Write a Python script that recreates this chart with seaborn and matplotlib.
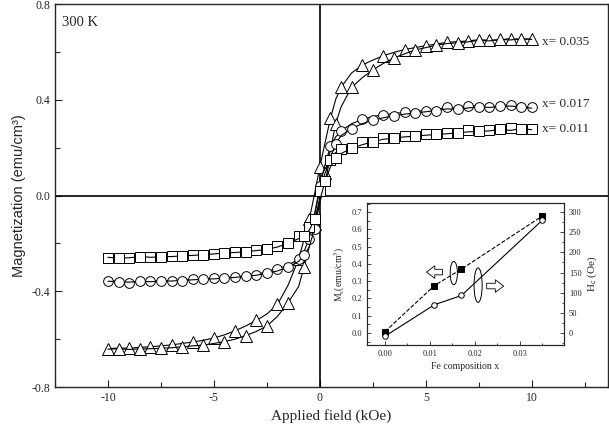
import matplotlib
matplotlib.use("Agg")
import matplotlib.pyplot as plt
from matplotlib.patches import Ellipse
from matplotlib.ticker import MultipleLocator, FormatStrFormatter
import seaborn as sns

# applied field grid (kOe), swept from +10 down to -10
field = [10, 9.5, 9, 8.5, 8, 7.5, 7, 6.5, 6, 5.5, 5, 4.5, 4, 3.5, 3, 2.5, 2, 1.5, 1,
         0.75, 0.5, 0.25, 0, -0.25, -0.5, -0.75, -1, -1.5, -2, -2.5, -3, -3.5, -4,
         -4.5, -5, -5.5, -6, -6.5, -7, -7.5, -8, -8.5, -9, -9.5, -10]

# x = 0.035 (triangles)
m035_down = [0.655, 0.652, 0.656, 0.650, 0.649, 0.651, 0.646, 0.643, 0.640, 0.633, 0.626,
             0.618, 0.610, 0.598, 0.584, 0.566, 0.545, 0.512, 0.452, 0.402, 0.322, 0.222,
             0.120, 0.005, -0.100, -0.185, -0.265, -0.375, -0.455, -0.495, -0.522, -0.545,
             -0.565, -0.582, -0.595, -0.605, -0.612, -0.618, -0.624, -0.628, -0.632,
             -0.634, -0.638, -0.637, -0.640]
m035_up = [0.652, 0.655, 0.650, 0.652, 0.646, 0.648, 0.642, 0.638, 0.635, 0.628, 0.618,
           0.608, 0.592, 0.575, 0.552, 0.525, 0.492, 0.452, 0.370, 0.300, 0.190, 0.095,
           -0.010, -0.120, -0.215, -0.300, -0.380, -0.448, -0.505, -0.545, -0.568, -0.585,
           -0.600, -0.610, -0.618, -0.625, -0.628, -0.632, -0.636, -0.638, -0.640,
           -0.641, -0.643, -0.640, -0.642]

# x = 0.017 (circles)
m017_down = [0.368, 0.372, 0.380, 0.375, 0.370, 0.378, 0.372, 0.365, 0.368, 0.360, 0.355,
             0.352, 0.348, 0.342, 0.338, 0.330, 0.318, 0.300, 0.270, 0.245, 0.205, 0.130,
             0.040, -0.080, -0.180, -0.235, -0.265, -0.292, -0.305, -0.318, -0.330, -0.336,
             -0.340, -0.343, -0.345, -0.348, -0.350, -0.352, -0.356, -0.355, -0.358,
             -0.360, -0.365, -0.358, -0.355]
m017_up = [0.365, 0.370, 0.374, 0.372, 0.368, 0.370, 0.366, 0.360, 0.362, 0.355, 0.350,
           0.345, 0.340, 0.333, 0.325, 0.315, 0.300, 0.280, 0.250, 0.215, 0.160, 0.060,
           -0.030, -0.140, -0.215, -0.250, -0.275, -0.300, -0.315, -0.325, -0.333, -0.338,
           -0.342, -0.345, -0.348, -0.350, -0.352, -0.355, -0.357, -0.358, -0.360,
           -0.358, -0.362, -0.360, -0.358]

# x = 0.011 (squares)
m011_down = [0.278, 0.272, 0.282, 0.268, 0.275, 0.270, 0.272, 0.265, 0.262, 0.258, 0.255,
             0.252, 0.250, 0.245, 0.240, 0.232, 0.222, 0.212, 0.195, 0.180, 0.150, 0.095,
             0.020, -0.080, -0.130, -0.155, -0.170, -0.195, -0.212, -0.222, -0.228, -0.232,
             -0.236, -0.240, -0.244, -0.246, -0.250, -0.252, -0.254, -0.255, -0.256,
             -0.258, -0.260, -0.256, -0.262]
m011_up = [0.275, 0.280, 0.272, 0.276, 0.270, 0.268, 0.266, 0.262, 0.258, 0.255, 0.252,
           0.248, 0.245, 0.240, 0.235, 0.225, 0.212, 0.198, 0.175, 0.155, 0.120, 0.060,
           -0.020, -0.100, -0.145, -0.168, -0.180, -0.200, -0.215, -0.225, -0.230, -0.235,
           -0.238, -0.240, -0.244, -0.247, -0.250, -0.252, -0.255, -0.256, -0.258,
           -0.255, -0.260, -0.262, -0.258]

# inset: saturation magnetization and coercivity vs Fe content
fe_x = [0.0, 0.011, 0.017, 0.035]
ms_vals = [0.008, 0.275, 0.370, 0.678]
hc_vals = [-8, 70, 93, 280]

loops = [("x= 0.035", m035_down, m035_up, "^", 8, 0.640),
         ("x= 0.017", m017_down, m017_up, "o", 7, 0.381),
         ("x= 0.011", m011_down, m011_up, "s", 6.5, 0.278)]

sns.set_style("ticks")
plt.rcParams["font.family"] = ["Liberation Serif", "DejaVu Serif"]
plt.rcParams["mathtext.fontset"] = "stix"
plt.rcParams["axes.unicode_minus"] = False

fig = plt.figure(figsize=(6.09, 4.26), dpi=100)
ax = fig.add_axes([0.0903, 0.0915, 0.908, 0.899])

ax.axhline(0, color="black", lw=1.2, zorder=1)
ax.axvline(0, color="black", lw=1.2, zorder=1)

for label, down, up, mk, ms, ylab in loops:
    for branch, start in [(down, 0), (up, 1)]:
        sns.lineplot(x=field, y=branch, sort=False, estimator=None, ax=ax,
                     color="black", lw=0.8, marker=mk, markersize=ms,
                     markerfacecolor="white", markeredgecolor="black",
                     markeredgewidth=0.7, markevery=(start, 2), zorder=3)
    ax.text(10.5, ylab, label, fontsize=9.5, va="center", ha="left")

ax.text(0.013, 0.953, "300 K", transform=ax.transAxes, fontsize=10.5, va="center")

ax.set_xlim(-12.5, 13.6)
ax.set_ylim(-0.8, 0.8)
ax.xaxis.set_major_locator(MultipleLocator(5))
ax.xaxis.set_minor_locator(MultipleLocator(2.5))
ax.yaxis.set_major_locator(MultipleLocator(0.4))
ax.yaxis.set_minor_locator(MultipleLocator(0.2))
ax.yaxis.set_major_formatter(FormatStrFormatter("%.1f"))
ax.tick_params(which="both", direction="in", labelsize=8.5, width=0.8)
ax.tick_params(which="major", length=5)
ax.tick_params(which="minor", length=3.5)
for sp in ax.spines.values():
    sp.set_linewidth(1.0)
ax.set_xlabel("Applied field (kOe)", fontsize=11, labelpad=4)
ax.set_ylabel("Magnetization (emu/cm³)", fontsize=10.5,
              family=["Liberation Sans", "DejaVu Sans"], labelpad=4)

# inset
axi = fig.add_axes([0.6026, 0.190, 0.3235, 0.333])
sns.lineplot(x=fe_x, y=ms_vals, ax=axi, color="black", lw=0.8, ls="--",
             marker="s", markersize=4, markerfacecolor="black",
             markeredgecolor="black", estimator=None)
axi.set_xlim(-0.004, 0.0398)
axi.set_ylim(-0.07, 0.752)
axi.xaxis.set_major_locator(MultipleLocator(0.01))
axi.xaxis.set_minor_locator(MultipleLocator(0.005))
axi.xaxis.set_major_formatter(FormatStrFormatter("%.2f"))
axi.yaxis.set_major_locator(MultipleLocator(0.1))
axi.yaxis.set_minor_locator(MultipleLocator(0.05))
axi.yaxis.set_major_formatter(FormatStrFormatter("%.1f"))
axi.set_xlabel("Fe composition x", fontsize=7, labelpad=3)
axi.set_ylabel(r"M$_\mathrm{s}$(emu/cm$^3$)", fontsize=7, labelpad=3)

axr = axi.twinx()
sns.lineplot(x=fe_x, y=hc_vals, ax=axr, color="black", lw=0.8,
             marker="o", markersize=4, markerfacecolor="white",
             markeredgecolor="black", markeredgewidth=0.7, estimator=None)
axr.set_ylim(-30, 322)
axr.yaxis.set_major_locator(MultipleLocator(50))
axr.yaxis.set_minor_locator(MultipleLocator(25))
axr.set_ylabel(r"H$_\mathrm{c}$ (Oe)", fontsize=8, labelpad=3)

for a in (axi, axr):
    a.tick_params(which="both", direction="in", labelsize=6, width=0.6)
    a.tick_params(which="major", length=3)
    a.tick_params(which="minor", length=1.8)
    for sp in a.spines.values():
        sp.set_linewidth(0.8)

# ellipses and hollow arrows marking which axis each curve belongs to
axi.add_patch(Ellipse((0.0153, 0.347), 0.0016, 0.135, fill=False, ec="black", lw=0.7))
axi.add_patch(Ellipse((0.0207, 0.277), 0.0018, 0.20, fill=False, ec="black", lw=0.7))
arrow = dict(arrowstyle="simple,head_length=0.6,head_width=0.9,tail_width=0.4",
             fc="white", ec="black", lw=0.6)
axi.annotate("", xy=(0.0086, 0.353), xytext=(0.0134, 0.353), arrowprops=arrow)
axi.annotate("", xy=(0.0270, 0.272), xytext=(0.0220, 0.272), arrowprops=arrow)

fig.savefig("out.png", dpi=100)
